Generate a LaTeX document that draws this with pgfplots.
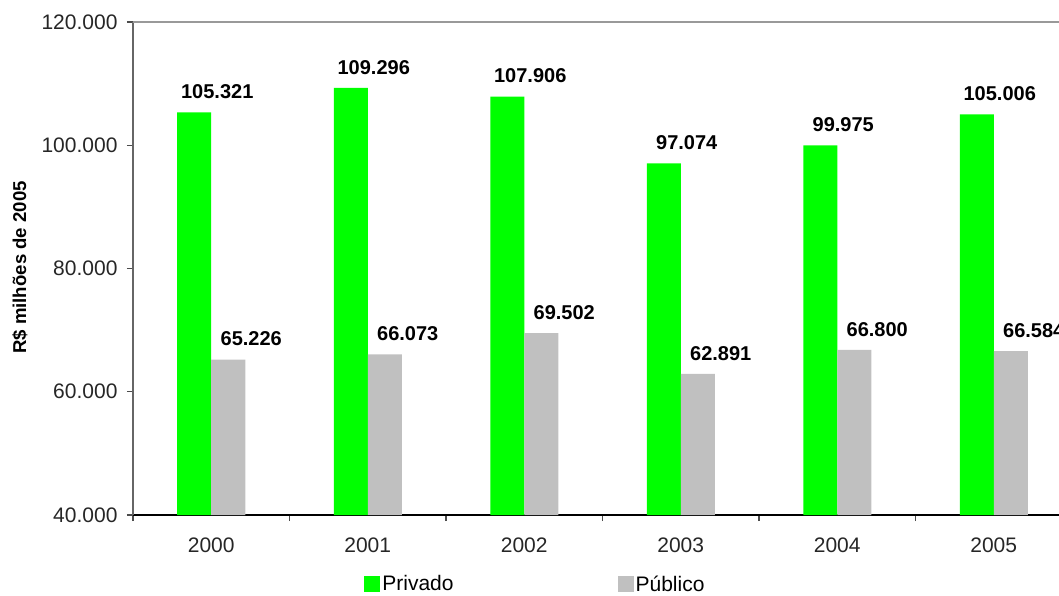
\documentclass[border=0pt]{standalone}
\usepackage{pgfplots}
\pgfplotsset{compat=1.18}
\usepackage{fontspec}
\setmainfont{Liberation Sans}
\definecolor{priv}{HTML}{00FF00}
\definecolor{publ}{HTML}{C0C0C0}
\begin{document}
\begin{tikzpicture}
\path[use as bounding box] (-133pt,-80pt) rectangle (926pt,515pt);
\clip (-133pt,-80pt) rectangle (926pt,515pt);
\begin{axis}[
  at={(0pt,0pt)}, anchor=south west,
  scale only axis, width=939pt, height=493pt,
  ybar=0pt, bar width=34pt,
  xmin=-0.5, xmax=5.5, ymin=40000, ymax=120000,
  xtick={-0.5,0.5,1.5,2.5,3.5,4.5,5.5},
  xticklabels={},
  extra x ticks={0,1,2,3,4,5},
  extra x tick labels={2000,2001,2002,2003,2004,2005},
  extra x tick style={major tick length=0pt, xticklabel style={yshift=-19pt}},
  ytick={40000,60000,80000,100000,120000},
  yticklabels={40.000,60.000,80.000,100.000,120.000},
  scaled y ticks=false,
  axis x line*=bottom, axis y line*=left,
  x axis line style={black, line width=1.6pt, -},
  y axis line style={black!60, line width=2pt, -},
  tick align=outside,
  major tick length=6pt,
  tick style={black!70, line width=1.2pt},
  tick label style={font=\fontsize{21}{24}\selectfont, text=black!85},
  yticklabel style={xshift=-6pt},
  ylabel={\bfseries R\$ milhões de 2005},
  every axis y label/.style={at={(axis description cs:-0.1203,0.502)}, rotate=90, anchor=center, font=\fontsize{18.6}{22}\selectfont},
  point meta=explicit symbolic,
  nodes near coords,
  every node near coord/.append style={font=\bfseries\fontsize{20}{24}\selectfont, xshift=23pt, yshift=10pt, text=black},
  legend style={at={(rel axis cs:0.243,-0.14)}, anchor=west, draw=none, fill=none,
    legend columns=2, font=\fontsize{21}{24}\selectfont,
    /tikz/every even column/.append style={column sep=162pt}},
  legend image code/.code={\fill[#1,draw=none] (0pt,-8pt) rectangle (16pt,8pt);},
  clip=false,
]
\addplot[fill=priv, draw=none] coordinates {(0,105321)[105.321] (1,109296)[109.296] (2,107906)[107.906] (3,97074)[97.074] (4,99975)[99.975] (5,105006)[105.006]};
\addplot[fill=publ, draw=none] coordinates {(0,65226)[65.226] (1,66073)[66.073] (2,69502)[69.502] (3,62891)[62.891] (4,66800)[66.800] (5,66584)[66.584]};
\legend{Privado, Público}
\draw[black!40, line width=1.2pt] (rel axis cs:0,1) -- (rel axis cs:1,1) -- (rel axis cs:1,0);
\end{axis}
\end{tikzpicture}
\end{document}
